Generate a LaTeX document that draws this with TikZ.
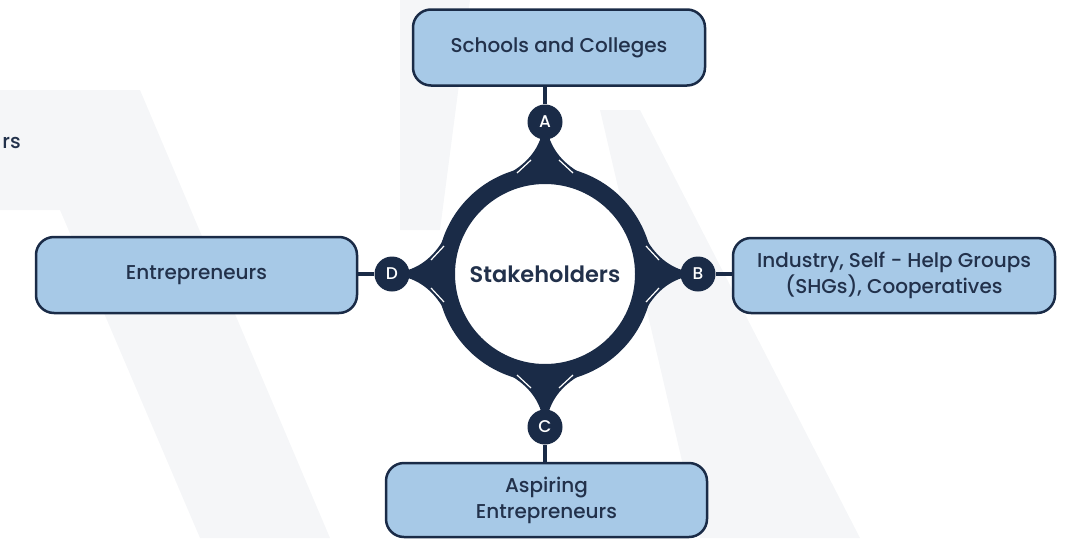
\documentclass[tikz,border=0pt]{standalone}
\usepackage{fontspec}
\setmainfont{Poppins Medium}[BoldFont={Poppins SemiBold}]
\definecolor{navy}{HTML}{1A2B47}
\definecolor{txt}{HTML}{22314B}
\definecolor{boxblue}{HTML}{A7C9E7}
\definecolor{wm}{HTML}{F5F6F8}
\begin{document}
\begin{tikzpicture}[x=1pt,y=-1pt,
  box/.style={draw=navy, line width=2.5pt, fill=boxblue, rounded corners=18pt, text=txt, align=center, font=\fontsize{20}{26}\selectfont},
  lbl/.style={circle, fill=navy, text=white, minimum size=35pt, inner sep=0pt, font=\fontsize{17}{17}\selectfont},
  conn/.style={draw=navy, line width=4pt},
  flare/.style={fill=navy},
  glint/.style={draw=white, line width=1.2pt}]
\useasboundingbox (0,0) rectangle (1067,538);
% faint watermark
\fill[wm] (0,90) -- (140,90) -- (330,538) -- (200,538) -- (60,210) -- (0,210) -- cycle;
\fill[wm] (600,110) -- (640,110) -- (860,538) -- (700,538) -- cycle;
\fill[wm] (400,0) -- (470,0) -- (440,230) -- (400,230) -- cycle;
% boxes
\node[box, minimum width=292pt, minimum height=76pt] (sc) at (559,47.5) {Schools and Colleges};
\node[box, minimum width=321pt, minimum height=76pt] (en) at (196.5,275) {Entrepreneurs};
\node[box, minimum width=322pt, minimum height=75pt] (in) at (894,275.5) {Industry, Self - Help Groups\\(SHGs), Cooperatives};
\node[box, minimum width=321pt, minimum height=74pt] (as) at (546.5,500) {Aspiring\\Entrepreneurs};
% ring
\node[circle, draw=navy, line width=18pt, minimum size=198pt, inner sep=0pt, text=txt,
  font=\fontsize{22.5}{22.5}\selectfont\bfseries] (ring) at (545,274) {Stakeholders};
% flares
\foreach \r in {0,90,180,270}{
  \begin{scope}[shift={(ring.center)}, rotate=\r]
    \fill[flare] (-46,96) .. controls (-26,104) and (-10,118) .. (-4,137) -- (4,137)
       .. controls (10,118) and (26,104) .. (46,96) -- cycle;
    \draw[glint] (-28,101) -- (-14,114);
    \draw[glint] (28,101) -- (14,114);
  \end{scope}
}
% labels
\node[lbl] (A) at (545,122) {A};
\node[lbl] (B) at (698,274) {B};
\node[lbl] (C) at (545,427) {C};
\node[lbl] (D) at (392,274) {D};
% connectors
\draw[conn] (A |- sc.south) -- (A);
\draw[conn] (A) -- (ring.north);
\draw[conn] (in.west |- B) -- (B);
\draw[conn] (B) -- (ring.east);
\draw[conn] (C |- as.north) -- (C);
\draw[conn] (C) -- (ring.south);
\draw[conn] (en.east |- D) -- (D);
\draw[conn] (D) -- (ring.west);
% cut-off text at left edge
\node[anchor=east, text=txt, font=\fontsize{20}{22}\selectfont, inner sep=0pt] (rs) at (21,143) {rs};
\end{tikzpicture}
\end{document}
